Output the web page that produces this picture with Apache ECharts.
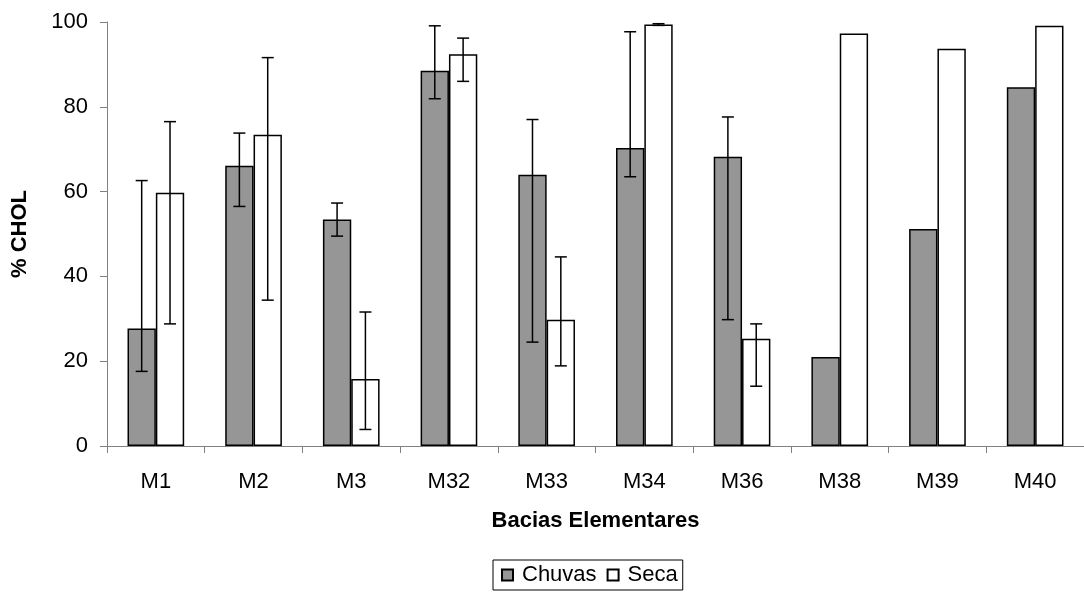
<!DOCTYPE html>
<html>
<head>
<meta charset="utf-8">
<script src="https://cdn.jsdelivr.net/npm/echarts@6/dist/echarts.min.js"></script>
<style>
html,body{margin:0;padding:0;background:#fff;}
#chart{width:1084px;height:596px;}
</style>
</head>
<body>
<div id="chart"></div>
<script>
var categories = ['M1','M2','M3','M32','M33','M34','M36','M38','M39','M40'];
var chuvas     = [27.7, 66.1, 53.4, 88.5, 64.0, 70.3, 68.2, 21.0, 51.2, 84.6];
var chuvasLow  = [17.6, 56.5, 49.5, 81.9, 24.5, 63.5, 29.8, null, null, null];
var chuvasHigh = [62.6, 73.8, 57.3, 99.1, 77.0, 97.7, 77.6, null, null, null];
var seca       = [59.7, 73.4, 15.8, 92.4, 29.8, 99.4, 25.3, 97.3, 93.7, 99.1];
var secaLow    = [28.8, 34.4,  3.9, 86.0, 18.9, 99.2, 14.1, null, null, null];
var secaHigh   = [76.5, 91.6, 31.6, 96.2, 44.6, 99.6, 28.8, null, null, null];
var yTicks = [0, 20, 40, 60, 80, 100];

var FONT = '"Liberation Sans", Arial, sans-serif';
var BAR_FRAC = 0.29;

function errData(lo, hi) {
  var out = [];
  for (var i = 0; i < categories.length; i++) {
    if (lo[i] != null && hi[i] != null) out.push([i, lo[i], hi[i]]);
  }
  return out;
}

function makeRender(sign) {
  return function (params, api) {
    var x = api.value(0), lo = api.value(1), hi = api.value(2);
    var pLo = api.coord([x, lo]);
    var pHi = api.coord([x, hi]);
    var band = api.size([1, 0])[0];
    var cx = pLo[0] + sign * band * BAR_FRAC / 2;
    var half = 6;
    var st = {stroke: '#000', lineWidth: 1.5};
    return {
      type: 'group',
      children: [
        {type: 'line', shape: {x1: cx, y1: pHi[1], x2: cx, y2: pLo[1]}, style: st},
        {type: 'line', shape: {x1: cx - half, y1: pHi[1], x2: cx + half, y2: pHi[1]}, style: st},
        {type: 'line', shape: {x1: cx - half, y1: pLo[1], x2: cx + half, y2: pLo[1]}, style: st}
      ]
    };
  };
}

var chart = echarts.init(document.getElementById('chart'), null, {renderer: 'canvas'});
chart.setOption({
  animation: false,
  backgroundColor: '#fff',
  textStyle: {fontFamily: FONT},
  grid: {left: 107, top: 22, right: -5, bottom: 150, containLabel: false},
  legend: {
    data: ['Chuvas', 'Seca'],
    left: 493, top: 560,
    orient: 'horizontal',
    icon: 'rect',
    itemWidth: 11, itemHeight: 11, itemGap: 10,
    borderColor: '#000', borderWidth: 1,
    padding: [4, 5, 4, 8],
    textStyle: {fontFamily: FONT, fontSize: 22, color: '#000', padding: [0, 0, 0, 4]}
  },
  xAxis: {
    type: 'category',
    data: categories,
    name: 'Bacias Elementares',
    nameLocation: 'middle',
    nameGap: 64,
    nameTextStyle: {fontFamily: FONT, fontSize: 22, fontWeight: 'bold', color: '#000'},
    axisLine: {lineStyle: {color: '#808080', width: 1}},
    axisTick: {show: true, inside: false, length: 7, alignWithLabel: false, lineStyle: {color: '#808080'}},
    axisLabel: {interval: 0, margin: 25, fontFamily: FONT, fontSize: 22, color: '#000'},
    splitLine: {show: false}
  },
  yAxis: {
    type: 'value',
    min: yTicks[0], max: yTicks[yTicks.length - 1], interval: 20,
    name: '% CHOL',
    nameLocation: 'middle',
    nameGap: 76,
    nameRotate: 90,
    nameTextStyle: {fontFamily: FONT, fontSize: 22, fontWeight: 'bold', color: '#000'},
    axisLine: {show: true, lineStyle: {color: '#808080', width: 1}},
    axisTick: {show: true, inside: false, length: 7, lineStyle: {color: '#808080'}},
    axisLabel: {margin: 19, fontFamily: FONT, fontSize: 22, color: '#000'},
    splitLine: {show: false}
  },
  series: [
    {
      name: 'Chuvas', type: 'bar', data: chuvas,
      barWidth: (BAR_FRAC * 100) + '%', barGap: '0%',
      itemStyle: {color: '#969696', borderColor: '#000', borderWidth: 1.5}
    },
    {
      name: 'Seca', type: 'bar', data: seca,
      barWidth: (BAR_FRAC * 100) + '%', barGap: '0%',
      itemStyle: {color: '#ffffff', borderColor: '#000', borderWidth: 1.5}
    },
    {
      name: 'errChuvas', type: 'custom', data: errData(chuvasLow, chuvasHigh),
      renderItem: makeRender(-1), encode: {x: 0, y: [1, 2]}, z: 10, silent: true
    },
    {
      name: 'errSeca', type: 'custom', data: errData(secaLow, secaHigh),
      renderItem: makeRender(1), encode: {x: 0, y: [1, 2]}, z: 10, silent: true
    }
  ]
});
</script>
</body>
</html>
